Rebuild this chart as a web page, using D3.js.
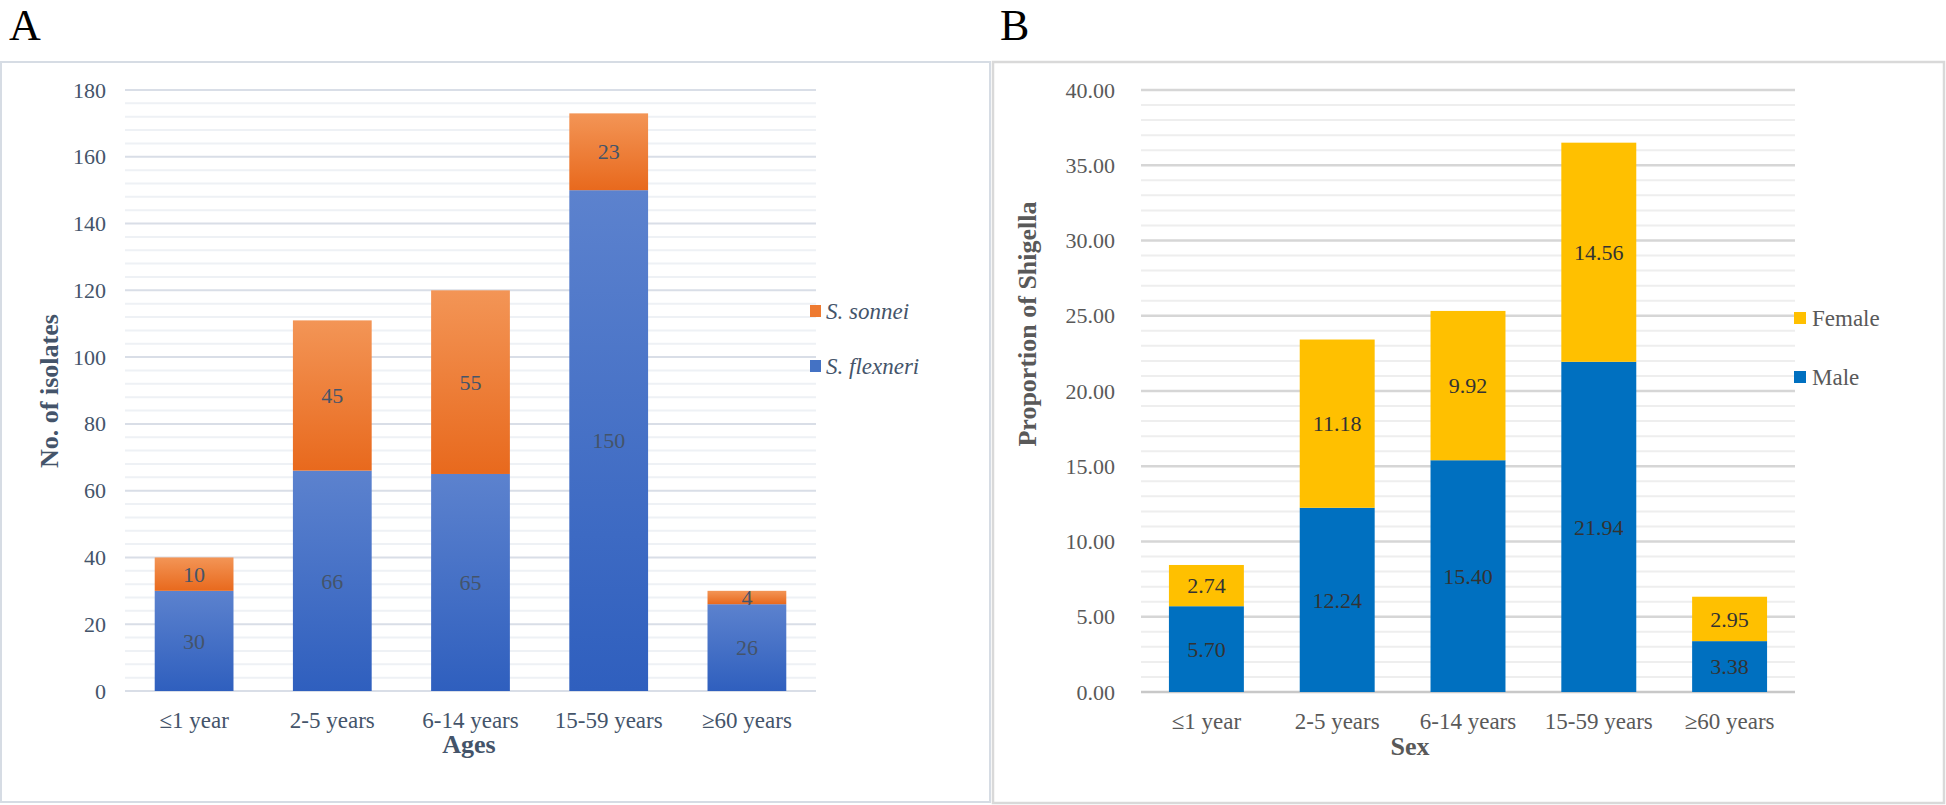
<!DOCTYPE html>
<html>
<head>
<meta charset="utf-8">
<script src="https://cdn.jsdelivr.net/npm/d3@7"></script>
<style>
  html, body { margin: 0; padding: 0; background: #ffffff; }
  svg { display: block; }
  svg text { font-family: "Liberation Serif", "Times New Roman", Times, serif !important; }
</style>
</head>
<body>
<svg id="chart" width="1946" height="805"></svg>
<script>
// ---------- Data ----------
const ageCategories = ["\u22641 year", "2-5 years", "6-14 years", "15-59 years", "\u226560 years"];

// Panel A: number of isolates by species
const flexneriValues = [30, 66, 65, 150, 26];
const sonneiValues   = [10, 45, 55, 23, 4];
const yTicksA = [0, 20, 40, 60, 80, 100, 120, 140, 160, 180];

// Panel B: proportion of Shigella by sex
const maleValues   = [5.70, 12.24, 15.40, 21.94, 3.38];
const femaleValues = [2.74, 11.18, 9.92, 14.56, 2.95];
const yTicksB = [0, 5, 10, 15, 20, 25, 30, 35, 40];

// ---------- Drawing ----------
const svg = d3.select("#chart");
const defs = svg.append("defs");

function grad(id, top, bottom) {
  const g = defs.append("linearGradient").attr("id", id)
    .attr("x1", 0).attr("y1", 0).attr("x2", 0).attr("y2", 1);
  g.append("stop").attr("offset", "0%").attr("stop-color", top);
  g.append("stop").attr("offset", "100%").attr("stop-color", bottom);
}
grad("gOrange", "#F39556", "#E8691D");
grad("gBlue", "#5C82CE", "#2F5FBE");

// Panel frames
svg.append("rect").attr("x", 1).attr("y", 62).attr("width", 989).attr("height", 740)
  .attr("fill", "#fff").attr("stroke", "#D6DCE4").attr("stroke-width", 2);
svg.append("rect").attr("x", 993).attr("y", 62).attr("width", 951).attr("height", 741)
  .attr("fill", "#fff").attr("stroke", "#D9D9D9").attr("stroke-width", 2.5);

// Panel letters
svg.append("text").attr("x", 9).attr("y", 40).attr("font-size", 44).attr("fill", "#000").text("A");
svg.append("text").attr("x", 1000).attr("y", 40).attr("font-size", 44).attr("fill", "#000").text("B");

// ---------- Panel A ----------
(function () {
  const x0 = 125, x1 = 816, yTop = 90, yBot = 691;
  const x = d3.scaleBand().domain(ageCategories).range([x0, x1]).paddingInner(0.43).paddingOuter(0.215);
  const y = d3.scaleLinear().domain([0, 180]).range([yBot, yTop]);
  const txt = "#44546A";
  const g = svg.append("g");

  // minor gridlines
  const minor = d3.range(0, 181, 4).filter(v => v % 20 !== 0);
  g.selectAll(".minA").data(minor).join("line")
    .attr("x1", x0).attr("x2", x1).attr("y1", d => y(d)).attr("y2", d => y(d))
    .attr("stroke", "#EEF1F5").attr("stroke-width", 2);
  // major gridlines
  g.selectAll(".majA").data(yTicksA).join("line")
    .attr("x1", x0).attr("x2", x1).attr("y1", d => y(d)).attr("y2", d => y(d))
    .attr("stroke", "#D9DEE7").attr("stroke-width", 2);

  // y axis labels via d3 axis
  const ax = g.append("g").attr("transform", `translate(${x0},0)`)
    .call(d3.axisLeft(y).tickValues(yTicksA).tickSize(0).tickPadding(19).tickFormat(d3.format("d")));
  ax.select(".domain").remove();
  ax.selectAll("text").attr("font-size", 22).attr("fill", txt);

  // x axis labels
  const axx = g.append("g").attr("transform", `translate(0,${yBot})`)
    .call(d3.axisBottom(x).tickSize(0).tickPadding(21));
  axx.select(".domain").remove();
  axx.selectAll("text").attr("font-size", 23).attr("fill", txt);

  // stacked bars
  const rows = ageCategories.map((c, i) => ({ cat: c, fl: flexneriValues[i], so: sonneiValues[i] }));
  g.selectAll(".barFl").data(rows).join("rect")
    .attr("x", d => x(d.cat)).attr("width", x.bandwidth())
    .attr("y", d => y(d.fl)).attr("height", d => y(0) - y(d.fl))
    .attr("fill", "url(#gBlue)");
  g.selectAll(".barSo").data(rows).join("rect")
    .attr("x", d => x(d.cat)).attr("width", x.bandwidth())
    .attr("y", d => y(d.fl + d.so)).attr("height", d => y(d.fl) - y(d.fl + d.so))
    .attr("fill", "url(#gOrange)");

  // data labels
  g.selectAll(".lblFl").data(rows).join("text")
    .attr("x", d => x(d.cat) + x.bandwidth() / 2).attr("y", d => y(d.fl / 2))
    .attr("dy", "0.35em").attr("text-anchor", "middle").attr("font-size", 22).attr("fill", txt)
    .text(d => d.fl);
  g.selectAll(".lblSo").data(rows).join("text")
    .attr("x", d => x(d.cat) + x.bandwidth() / 2).attr("y", d => y(d.fl + d.so / 2))
    .attr("dy", "0.35em").attr("text-anchor", "middle").attr("font-size", 22).attr("fill", txt)
    .text(d => d.so);

  // axis titles
  g.append("text").attr("x", 469).attr("y", 753).attr("text-anchor", "middle")
    .attr("font-size", 26).attr("font-weight", "bold").attr("fill", txt).text("Ages");
  g.append("text").attr("transform", `translate(58,391) rotate(-90)`).attr("text-anchor", "middle")
    .attr("font-size", 26).attr("font-weight", "bold").attr("fill", txt).text("No. of isolates");

  // legend
  const leg = [{ name: "S. sonnei", fill: "#EE7A31", y: 311 }, { name: "S. flexneri", fill: "#4472C4", y: 366 }];
  leg.forEach(l => {
    g.append("rect").attr("x", 810).attr("y", l.y - 6).attr("width", 11).attr("height", 12).attr("fill", l.fill);
    g.append("text").attr("x", 826).attr("y", l.y).attr("dy", "0.35em").attr("font-size", 23)
      .attr("font-style", "italic").attr("fill", txt).text(l.name);
  });
})();

// ---------- Panel B ----------
(function () {
  const x0 = 1141, x1 = 1795, yTop = 90, yBot = 692;
  const x = d3.scaleBand().domain(ageCategories).range([x0, x1]).paddingInner(0.427).paddingOuter(0.2135);
  const y = d3.scaleLinear().domain([0, 40]).range([yBot, yTop]);
  const txt = "#595959";
  const g = svg.append("g");

  const minor = d3.range(0, 41, 1).filter(v => v % 5 !== 0);
  g.selectAll(".minB").data(minor).join("line")
    .attr("x1", x0).attr("x2", x1).attr("y1", d => y(d)).attr("y2", d => y(d))
    .attr("stroke", "#EEEEEE").attr("stroke-width", 2);
  g.selectAll(".majB").data(yTicksB).join("line")
    .attr("x1", x0).attr("x2", x1).attr("y1", d => y(d)).attr("y2", d => y(d))
    .attr("stroke", d => d === 0 ? "#C8C8C8" : "#D6D6D6").attr("stroke-width", 2.5);

  const ax = g.append("g").attr("transform", `translate(${x0},0)`)
    .call(d3.axisLeft(y).tickValues(yTicksB).tickSize(0).tickPadding(26).tickFormat(d3.format(".2f")));
  ax.select(".domain").remove();
  ax.selectAll("text").attr("font-size", 22).attr("fill", txt);

  const axx = g.append("g").attr("transform", `translate(0,${yBot})`)
    .call(d3.axisBottom(x).tickSize(0).tickPadding(21));
  axx.select(".domain").remove();
  axx.selectAll("text").attr("font-size", 23).attr("fill", txt);

  const rows = ageCategories.map((c, i) => ({ cat: c, m: maleValues[i], f: femaleValues[i] }));
  g.selectAll(".barM").data(rows).join("rect")
    .attr("x", d => x(d.cat)).attr("width", x.bandwidth())
    .attr("y", d => y(d.m)).attr("height", d => y(0) - y(d.m))
    .attr("fill", "#0070C0");
  g.selectAll(".barF").data(rows).join("rect")
    .attr("x", d => x(d.cat)).attr("width", x.bandwidth())
    .attr("y", d => y(d.m + d.f)).attr("height", d => y(d.m) - y(d.m + d.f))
    .attr("fill", "#FFC000");

  const lbl = "#333333";
  g.selectAll(".lblM").data(rows).join("text")
    .attr("x", d => x(d.cat) + x.bandwidth() / 2).attr("y", d => y(d.m / 2))
    .attr("dy", "0.35em").attr("text-anchor", "middle").attr("font-size", 22).attr("fill", lbl)
    .text(d => d.m.toFixed(2));
  g.selectAll(".lblF").data(rows).join("text")
    .attr("x", d => x(d.cat) + x.bandwidth() / 2).attr("y", d => y(d.m + d.f / 2))
    .attr("dy", "0.35em").attr("text-anchor", "middle").attr("font-size", 22).attr("fill", lbl)
    .text(d => d.f.toFixed(2));

  g.append("text").attr("x", 1410).attr("y", 755).attr("text-anchor", "middle")
    .attr("font-size", 26).attr("font-weight", "bold").attr("fill", txt).text("Sex");
  g.append("text").attr("transform", `translate(1036,324) rotate(-90)`).attr("text-anchor", "middle")
    .attr("font-size", 26).attr("font-weight", "bold").attr("fill", txt).text("Proportion of Shigella");

  const leg = [{ name: "Female", fill: "#FFC000", y: 318 }, { name: "Male", fill: "#0070C0", y: 377 }];
  leg.forEach(l => {
    g.append("rect").attr("x", 1794).attr("y", l.y - 6).attr("width", 12).attr("height", 12).attr("fill", l.fill);
    g.append("text").attr("x", 1812).attr("y", l.y).attr("dy", "0.35em").attr("font-size", 23)
      .attr("fill", txt).text(l.name);
  });
})();
</script>
</body>
</html>
